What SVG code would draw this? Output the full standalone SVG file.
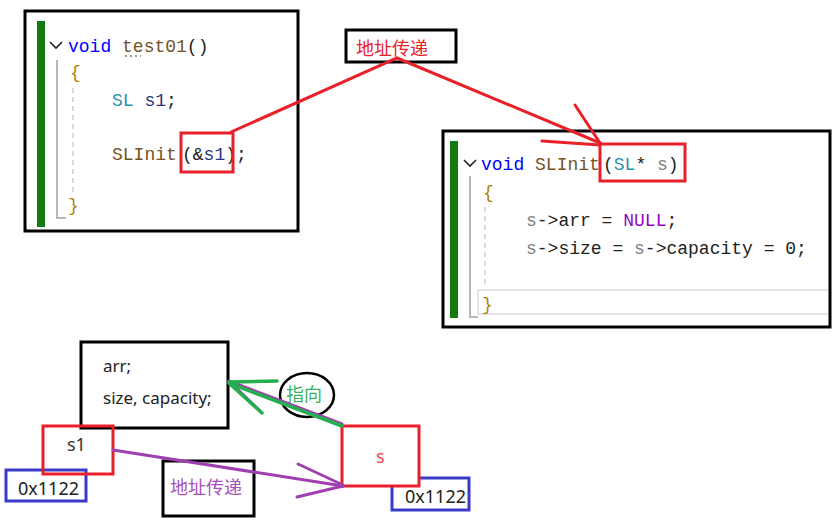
<svg xmlns="http://www.w3.org/2000/svg" width="839" height="524" viewBox="0 0 839 524">
<style>
.bb{fill:#fff;stroke:#000;stroke-width:3}
.rb{fill:none;stroke:#e8202a;stroke-width:3}
.blb{fill:#fff;stroke:#3a3ac8;stroke-width:3}
.code{font-family:"Liberation Mono","DejaVu Sans Mono",monospace;font-size:18px}
.sans{font-family:"Noto Sans","Open Sans",sans-serif;font-size:17px}
.cjk{font-family:"Noto Sans CJK SC","Noto Sans",sans-serif;font-size:18px}
.kw{fill:#0000ff}.fn{fill:#74531f}.ty{fill:#2b91af}.var{fill:#1f377f}.nul{fill:#8f08c4}.prm{fill:#808080}.br{fill:#b08000}.pl{fill:#222}
.green{fill:#137a13}
.guide{stroke:#b8b8b8;stroke-width:2;fill:none}
.dash{stroke:#d0d0d0;stroke-width:1.5;stroke-dasharray:5 4;fill:none}
.hl{stroke:#e4e4ec;stroke-width:2;fill:none}
.red{stroke:#e8202a;stroke-width:3;fill:none;stroke-linecap:round}
.pur{stroke:#a040b0;stroke-width:3;fill:none;stroke-linecap:round}
.grn{stroke:#22b14c;stroke-width:3.5;fill:none;stroke-linecap:round}
</style>

<g id="code-test01">
<rect class="bb" x="25" y="11" width="273" height="220"/>
<rect class="green" x="37" y="21" width="8" height="206"/>
<polyline points="50,42 56,48 62,42" fill="none" stroke="#222" stroke-width="1.6"/>
<polyline class="guide" points="57,60 57,218 66,218"/>
<line class="dash" x1="73" y1="88" x2="73" y2="194"/>
<line x1="125" y1="56" x2="141" y2="56" stroke="#999" stroke-width="2" stroke-dasharray="2 3"/>
<text class="code" x="68" y="52"><tspan class="kw">void</tspan> <tspan class="fn">test01</tspan><tspan class="pl">()</tspan></text>
<text class="code br" x="70" y="78">{</text>
<text class="code" x="112" y="106"><tspan class="ty">SL</tspan> <tspan class="var">s1</tspan><tspan class="pl">;</tspan></text>
<text class="code" x="112" y="160"><tspan class="fn">SLInit</tspan></text>
<text class="code" x="182" y="160"><tspan class="pl">(&amp;</tspan><tspan class="var">s1</tspan><tspan class="pl">)</tspan></text>
<text class="code pl" x="236" y="160">;</text>
<text class="code br" x="68" y="211">}</text>
<rect class="rb" x="181" y="133" width="52" height="39"/>
</g>

<g id="label-top">
<rect class="bb" x="346" y="30" width="110" height="32"/>
<text class="cjk" x="356" y="55" style="fill:#e8202a">地址传递</text>
</g>

<g id="code-slinit">
<rect class="bb" x="443" y="131" width="387" height="196"/>
<rect class="green" x="450" y="141" width="8" height="177"/>
<polyline class="hl" points="828,290 478,290 478,314 828,314"/>
<polyline points="464,160 470,166 476,160" fill="none" stroke="#222" stroke-width="1.6"/>
<polyline class="guide" points="470,176 470,317 478,317"/>
<line class="dash" x1="485" y1="207" x2="485" y2="287"/>
<text class="code" x="481" y="170"><tspan class="kw">void</tspan> <tspan class="fn">SLInit</tspan></text>
<text class="code" x="603" y="170"><tspan class="pl">(</tspan><tspan class="ty">SL</tspan><tspan class="pl">*</tspan> <tspan class="prm">s</tspan><tspan class="pl">)</tspan></text>
<text class="code br" x="483" y="198">{</text>
<text class="code" x="526" y="226"><tspan class="prm">s</tspan><tspan class="pl">-&gt;arr = </tspan><tspan class="nul">NULL</tspan><tspan class="pl">;</tspan></text>
<text class="code" x="526" y="254"><tspan class="prm">s</tspan><tspan class="pl">-&gt;size = </tspan><tspan class="prm">s</tspan><tspan class="pl">-&gt;capacity = 0;</tspan></text>
<text class="code br" x="482" y="310">}</text>
<rect class="rb" x="600" y="144" width="85" height="37"/>
</g>

<g id="struct-box">
<rect class="bb" x="81" y="342" width="147" height="86"/>
<text class="sans" x="103" y="372" style="fill:#222">arr;</text>
<text class="sans" x="103" y="404" style="fill:#222">size, capacity;</text>
</g>

<g id="addr-s1">
<rect class="blb" x="6" y="470" width="80" height="31"/>
<text class="sans" x="18" y="495" style="fill:#222;font-size:18px">0x1122</text>
</g>

<g id="s1-box">
<rect class="rb" x="43" y="426" width="70" height="48"/>
<text class="sans" x="67" y="451" style="fill:#333;font-size:18px">s1</text>
</g>

<g id="label-bottom">
<rect class="bb" x="163" y="461" width="91" height="55"/>
<text class="cjk" x="170" y="494" style="fill:#a64fb8">地址传递</text>
</g>

<g id="addr-s">
<rect class="blb" x="392" y="478" width="77" height="32"/>
<text class="sans" x="405" y="503" style="fill:#222;font-size:18px">0x1122</text>
</g>

<g id="s-box">
<rect x="342" y="426" width="77" height="60" fill="#fff" stroke="#e8202a" stroke-width="3"/>
<text class="sans" x="376" y="463" style="fill:#ee4455;font-size:18px">s</text>
</g>

<g id="label-pointto">
<ellipse cx="307" cy="395" rx="27" ry="22" fill="none" stroke="#000" stroke-width="2.5"/>
<text class="cjk" x="286" y="401" style="fill:#3cb062">指向</text>
</g>

<g id="connectors">
<polyline class="red" points="231,132 397,58 600,143"/>
<line class="red" x1="575" y1="105" x2="600" y2="143"/>
<line class="red" x1="542" y1="141" x2="600" y2="145"/>
<line class="pur" x1="113" y1="450" x2="343" y2="486"/>
<line class="pur" x1="298" y1="464" x2="343" y2="485"/>
<line class="pur" x1="297" y1="497" x2="343" y2="486"/>
<line class="pur" x1="229" y1="381" x2="342" y2="424" stroke-width="2"/>
<line class="pur" x1="229" y1="381" x2="260" y2="411" stroke-width="2"/>
<line class="grn" x1="229" y1="383" x2="342" y2="426"/>
<line class="grn" x1="229" y1="382" x2="277" y2="381"/>
<line class="grn" x1="230" y1="384" x2="262" y2="413"/>
</g>
</svg>
